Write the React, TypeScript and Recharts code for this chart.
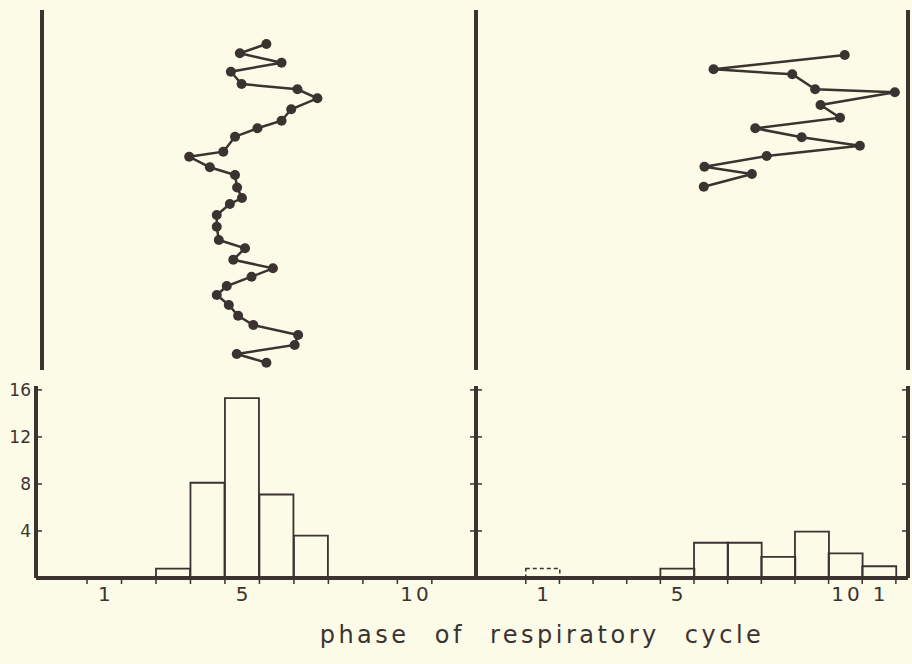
import { ScatterChart, Scatter, ComposedChart, Bar, XAxis, YAxis } from "recharts";

const INK = "#3a3330";
const PAPER = "#fcfbe8";
const FONT = "'DejaVu Sans', sans-serif";

// phase (in bins) of each response and its place in the record, top = first
const leftPhase = [5.7, 4.93, 6.14, 4.67, 4.98, 6.6, 7.18, 6.42, 6.14, 5.44, 4.79, 4.45, 3.46, 4.06, 4.79, 4.85, 4.99, 4.64, 4.26, 4.26, 4.32, 5.08, 4.74, 5.89, 5.27, 4.55, 4.26, 4.61, 4.88, 5.32, 6.62, 6.52, 4.84, 5.7];
const leftSeq = [3.4, 4.33, 5.27, 6.17, 7.4, 7.93, 8.83, 9.93, 11.07, 11.83, 12.67, 14.17, 14.67, 15.73, 16.5, 17.75, 18.8, 19.4, 20.5, 21.67, 23.0, 23.83, 24.97, 25.83, 26.67, 27.6, 28.5, 29.5, 30.57, 31.5, 32.5, 33.5, 34.4, 35.27];
const rightPhase = [9.98, 6.08, 8.42, 9.1, 11.47, 9.26, 9.84, 7.32, 8.7, 10.43, 7.66, 5.81, 7.22, 5.79];
const rightSeq = [4.5, 5.93, 6.43, 7.93, 8.23, 9.5, 10.77, 11.83, 12.73, 13.57, 14.6, 15.67, 16.4, 17.67];

// histogram of the same responses per phase bin
const bins = [0, 1, 2, 3, 4, 5, 6, 7, 8, 9, 10, 11];
const leftCounts = [0, 0, 0, 0.8, 8.1, 15.3, 7.1, 3.6, 0, 0, 0, 0];
const rightCounts = [0, 0, 0, 0, 0, 0.8, 3, 3, 1.8, 3.95, 2.1, 1];
const rightDoubtful = [0, 0.8, 0, 0, 0, 0, 0, 0, 0, 0, 0, 0];

const countTicks = [4, 8, 12, 16];
const leftEdges = [0.5, 1.5, 2.5, 3.5, 4.5, 5.5, 6.5, 7.5, 8.5, 9.5, 10.5];
const rightEdges = [0.5, 1.5, 2.5, 3.5, 4.5, 5.5, 6.5, 7.5, 8.5, 9.5, 10.5, 11.5];
const leftLabelBins = [1, 5, 10];
const leftLabelText = ["1", "5", "10"];
const rightLabelBins = [1, 5, 10, 11];
const rightLabelText = ["1", "5", "10", "1"];

const leftDots = leftPhase.map((phase, i) => ({ phase, seq: leftSeq[i] }));
const rightDots = rightPhase.map((phase, i) => ({ phase, seq: rightSeq[i] }));
const leftHist = bins.map((bin, i) => ({ bin, count: leftCounts[i] }));
const rightHist = bins.map((bin, i) => ({ bin, count: rightCounts[i], doubtful: rightDoubtful[i] }));

const Dot = (p: any) => <circle cx={p.cx} cy={p.cy} r={5} fill={INK} />;

function PhaseTick(props: any) {
  const { x, y, payload, labelBins, labelText } = props;
  const i = labelBins.indexOf(payload.value);
  if (i >= 0) {
    const text = labelText[i];
    return (
      <text x={x + (text.length > 1 ? 1.5 : 0)} y={y + 23} textAnchor="middle" fill={INK} fontSize={20}
        fontFamily={FONT} letterSpacing={text.length > 1 ? 3 : 0}>
        {text}
      </text>
    );
  }
  return <line x1={x} x2={x} y1={y} y2={y + 6} stroke={INK} strokeWidth={1.5} />;
}

function CountTick(props: any) {
  const { x, y, payload, side } = props;
  if (side === "left") {
    return (
      <g>
        <line x1={x} x2={x + 6} y1={y} y2={y} stroke={INK} strokeWidth={1.5} />
        <text x={x - 5} y={y} dy="0.36em" textAnchor="end" fill={INK} fontSize={17} fontFamily={FONT}>
          {payload.value}
        </text>
      </g>
    );
  }
  const x2 = side === "both" ? x + 6 : x;
  return <line x1={x - 6} x2={x2} y1={y} y2={y} stroke={INK} strokeWidth={1.5} />;
}

const thick = { stroke: INK, strokeWidth: 4 };
const topMargin = { top: 10, right: 3, bottom: 10, left: 35 };
const histMargin = { top: 10, right: 3, bottom: 56, left: 35 };

export default function App() {
  return (
    <div style={{ position: "absolute", left: 0, top: 0, width: 912, height: 664, background: PAPER, overflow: "hidden" }}>
      {/* record of responses, left condition */}
      <div style={{ position: "absolute", left: 0, top: 0 }}>
        <ScatterChart width={480} height={380} margin={{ ...topMargin, left: 41 }}>
          <XAxis type="number" dataKey="phase" domain={[-0.81, 11.81]} allowDataOverflow hide />
          <YAxis type="number" dataKey="seq" domain={[0, 36]} allowDataOverflow reversed width={1}
            tick={false} tickLine={false} axisLine={thick} />
          <Scatter data={leftDots} fill={INK} shape={Dot} line={{ stroke: INK, strokeWidth: 2.5 }} isAnimationActive={false} />
        </ScatterChart>
      </div>

      {/* record of responses, right condition */}
      <div style={{ position: "absolute", left: 440, top: 0 }}>
        <ScatterChart width={472} height={380} margin={topMargin}>
          <XAxis type="number" dataKey="phase" domain={[-0.98, 11.86]} allowDataOverflow hide />
          <YAxis type="number" dataKey="seq" domain={[0, 36]} allowDataOverflow reversed width={1}
            tick={false} tickLine={false} axisLine={thick} />
          <YAxis yAxisId="r" orientation="right" type="number" domain={[0, 36]} allowDataOverflow reversed width={1}
            tick={false} tickLine={false} axisLine={thick} />
          <Scatter data={rightDots} fill={INK} shape={Dot} line={{ stroke: INK, strokeWidth: 2.5 }} isAnimationActive={false} />
        </ScatterChart>
      </div>

      {/* histogram, left condition */}
      <div style={{ position: "absolute", left: 0, top: 376 }}>
        <ComposedChart width={480} height={288} data={leftHist} margin={histMargin} barCategoryGap={0} barGap={0}>
          <XAxis type="number" dataKey="bin" domain={[-0.98, 11.81]} allowDataOverflow height={30}
            ticks={[...leftEdges, ...leftLabelBins].sort((a, b) => a - b)} interval={0}
            tickLine={false} tickSize={0} tickMargin={0} axisLine={thick}
            tick={(p: any) => <PhaseTick {...p} labelBins={leftLabelBins} labelText={leftLabelText} />} />
          <YAxis type="number" domain={[0, 16.33]} allowDataOverflow ticks={countTicks} interval={0} width={1}
            tickLine={false} tickSize={0} tickMargin={0} axisLine={thick}
            tick={(p: any) => <CountTick {...p} side="left" />} />
          <Bar dataKey="count" stackId="h" fill="none" stroke={INK} strokeWidth={1.8} isAnimationActive={false} />
        </ComposedChart>
      </div>

      {/* histogram, right condition */}
      <div style={{ position: "absolute", left: 440, top: 376 }}>
        <ComposedChart width={472} height={288} data={rightHist} margin={histMargin} barCategoryGap={0} barGap={0}>
          <XAxis type="number" dataKey="bin" domain={[-0.98, 11.86]} allowDataOverflow height={30}
            ticks={[...rightEdges, ...rightLabelBins].sort((a, b) => a - b)} interval={0}
            tickLine={false} tickSize={0} tickMargin={0} axisLine={thick}
            tick={(p: any) => <PhaseTick {...p} labelBins={rightLabelBins} labelText={rightLabelText} />} />
          <YAxis type="number" domain={[0, 16.33]} allowDataOverflow ticks={countTicks} interval={0} width={1}
            tickLine={false} tickSize={0} tickMargin={0} axisLine={thick}
            tick={(p: any) => <CountTick {...p} side="both" />} />
          <YAxis yAxisId="r" orientation="right" type="number" domain={[0, 16.33]} allowDataOverflow ticks={countTicks}
            interval={0} width={1} tickLine={false} tickSize={0} tickMargin={0} axisLine={thick}
            tick={(p: any) => <CountTick {...p} side="right" />} />
          <Bar dataKey="count" stackId="h" fill="none" stroke={INK} strokeWidth={1.8} isAnimationActive={false} />
          <Bar dataKey="doubtful" stackId="h" fill="none" stroke={INK} strokeWidth={1.5} strokeDasharray="4 3" isAnimationActive={false} />
        </ComposedChart>
      </div>

      <svg width={912} height={50} style={{ position: "absolute", left: 0, top: 610 }}>
        <text x={542} y={33} textAnchor="middle" fill={INK} fontSize={24} fontFamily={FONT}
          letterSpacing={3.5} wordSpacing={14}>
          phase of respiratory cycle
        </text>
      </svg>
    </div>
  );
}
